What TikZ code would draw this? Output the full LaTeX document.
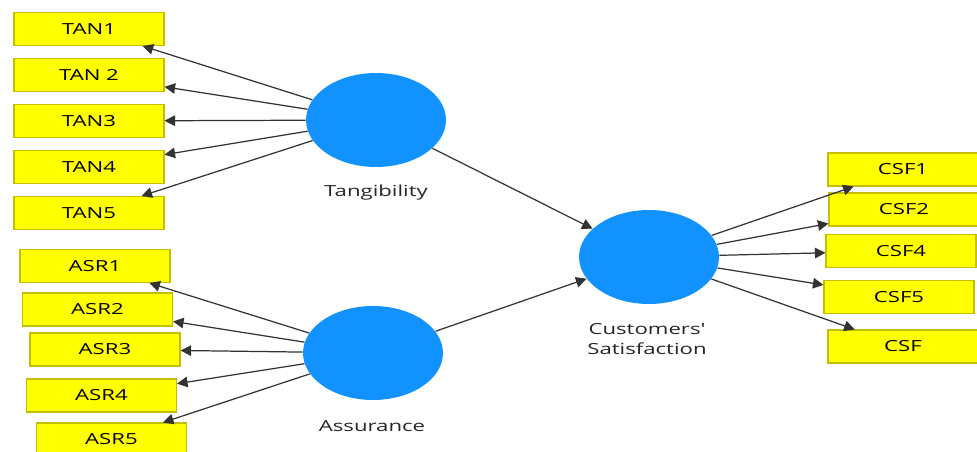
\documentclass[tikz,border=0pt]{standalone}
\usepackage{fontspec}
\setmainfont{Open Sans}
\usepackage{graphicx}
\usetikzlibrary{arrows.meta,shapes.geometric}

\definecolor{indfill}{RGB}{255,255,0}
\definecolor{inddraw}{RGB}{196,190,0}
\definecolor{lvfill}{RGB}{18,146,255}

% wide lettering of the model labels
\newcommand{\wtxt}[1]{\scalebox{1.45}[1]{#1}}

\begin{document}
\begin{tikzpicture}[
		x=0.02cm, y=-0.02cm,
		font=\fontsize{8.7}{11.3}\selectfont,
		>={Triangle[length=6pt,width=6pt]},
		ind/.style={
			rectangle, draw=inddraw, fill=indfill, line width=0.6pt,
			minimum width=3cm, minimum height=0.66cm, inner sep=0pt,
			text=black
		},
		lv/.style={
			ellipse, fill=lvfill,
			minimum width=2.8cm, minimum height=1.88cm, inner sep=0pt
		},
		lbl/.style={text=black!85, align=center},
		arr/.style={->, line width=0.7pt, black!80}
		]
		\useasboundingbox (0,0) rectangle (977,452);
		
		% latent variables
		\node[lv] (tang) at (376,120) {};
		\node[lv] (assur) at (373,353) {};
		\node[lv] (csat) at (649,257) {};
		\node[lbl] (tanglbl) at (376,193) {\wtxt{Tangibility}};
		\node[lbl] (assurlbl) at (372,426) {\wtxt{Assurance}};
		\node[lbl] (csatlbl) at (647,339) {\wtxt{Customers\textquotesingle}\\\wtxt{Satisfaction}};
		
		% tangibility indicators
		\node[ind] (tan1) at (89,29) {\wtxt{TAN1}};
		\node[ind] (tan2) at (89,75) {\wtxt{TAN 2}};
		\node[ind] (tan3) at (89,121) {\wtxt{TAN3}};
		\node[ind] (tan4) at (89,167) {\wtxt{TAN4}};
		\node[ind] (tan5) at (89,213) {\wtxt{TAN5}};
		
		% assurance indicators
		\node[ind] (asr1) at (95,266) {\wtxt{ASR1}};
		\node[ind] (asr2) at (97.5,309.5) {\wtxt{ASR2}};
		\node[ind] (asr3) at (105,349.5) {\wtxt{ASR3}};
		\node[ind] (asr4) at (101.5,395.5) {\wtxt{ASR4}};
		\node[ind] (asr5) at (111.5,439.5) {\wtxt{ASR5}};
		
		% satisfaction indicators
		\node[ind] (csf1) at (903,169.5) {\wtxt{CSF1}};
		\node[ind] (csf2) at (904,209.5) {\wtxt{CSF2}};
		\node[ind] (csf4) at (901,251) {\wtxt{CSF4}};
		\node[ind] (csf5) at (899,297) {\wtxt{CSF5}};
		\node[ind] (csf) at (903,346.5) {\wtxt{CSF}};
		
		% loadings
		\foreach \i in {tan1,tan2,tan3,tan4,tan5}
			\draw[arr] (tang) -- (\i);
		\foreach \i in {asr1,asr2,asr3,asr4,asr5}
			\draw[arr] (assur) -- (\i);
		\foreach \i in {csf1,csf2,csf4,csf5,csf}
			\draw[arr] (csat) -- (\i);
		
		% structural paths
		\draw[arr] (tang) -- (csat);
		\draw[arr] (assur) -- (csat);
\end{tikzpicture}
\end{document}
